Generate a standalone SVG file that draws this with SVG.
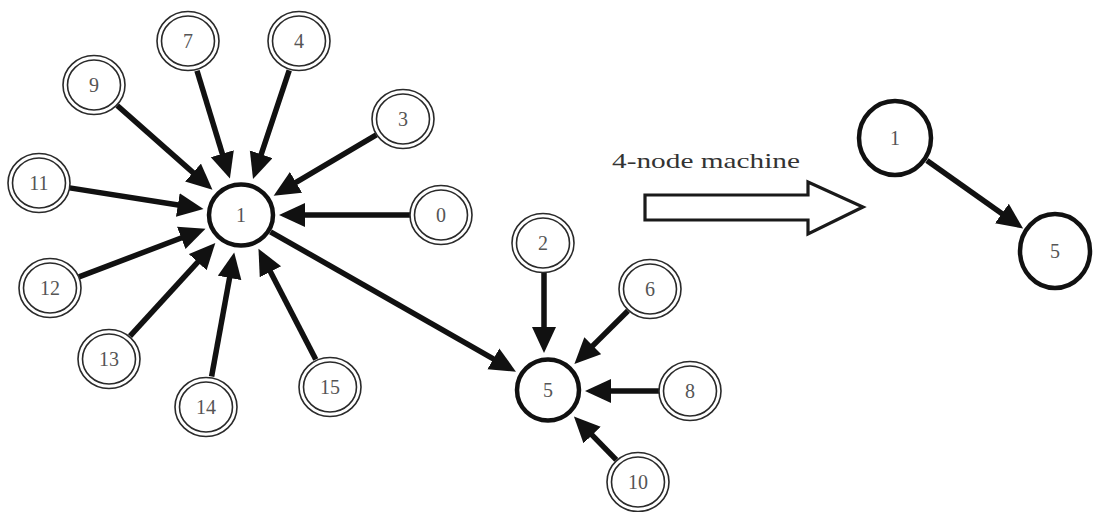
<svg xmlns="http://www.w3.org/2000/svg" width="1093" height="512" viewBox="0 0 1093 512">
<defs>
<style>
.bg{fill:#ffffff}
.dc{fill:#ffffff;stroke:#2a2a2a;stroke-width:1.6}
.dci{fill:none;stroke:#2a2a2a;stroke-width:1.6}
.bc{fill:#ffffff;stroke:#111111;stroke-width:4.5}
.lbl{font-family:"Liberation Serif","Times New Roman",serif;font-size:20px;fill:#555555;text-anchor:middle}
.edge{stroke:#111111;stroke-width:5.5;fill:none}
.cap{font-family:"Liberation Serif","Times New Roman",serif;font-size:22px;fill:#333333}
</style>
<marker id="ah" markerUnits="userSpaceOnUse" markerWidth="28" markerHeight="26" refX="2" refY="12" orient="auto">
<path d="M0,0 L26,12 L0,24 z" fill="#111111"/>
</marker>
</defs>
<rect class="bg" x="0" y="0" width="1093" height="512"/>

<g id="connectors">
<line class="edge" x1="197.0" y1="70.7" x2="222.9" y2="155.6" marker-end="url(#ah)"/>
<line class="edge" x1="289.2" y1="70.4" x2="260.6" y2="156.2" marker-end="url(#ah)"/>
<line class="edge" x1="117.2" y1="105.5" x2="194.5" y2="173.9" marker-end="url(#ah)"/>
<line class="edge" x1="376.3" y1="134.8" x2="294.3" y2="183.4" marker-end="url(#ah)"/>
<line class="edge" x1="69.6" y1="187.9" x2="179.8" y2="205.3" marker-end="url(#ah)"/>
<line class="edge" x1="410" y1="215" x2="303" y2="215" marker-end="url(#ah)"/>
<line class="edge" x1="79.0" y1="276.9" x2="183.1" y2="237.2" marker-end="url(#ah)"/>
<line class="edge" x1="130.0" y1="336.1" x2="199.1" y2="260.7" marker-end="url(#ah)"/>
<line class="edge" x1="211.6" y1="376.5" x2="229.9" y2="276.0" marker-end="url(#ah)"/>
<line class="edge" x1="315.8" y1="359.5" x2="269.5" y2="270.0" marker-end="url(#ah)"/>
<line class="edge" x1="270.5" y1="231.8" x2="495.1" y2="359.8" marker-end="url(#ah)"/>
<line class="edge" x1="544" y1="272" x2="544" y2="329" marker-end="url(#ah)"/>
<line class="edge" x1="628.0" y1="310.8" x2="591.4" y2="347.1" marker-end="url(#ah)"/>
<line class="edge" x1="659" y1="391" x2="609" y2="391" marker-end="url(#ah)"/>
<line class="edge" x1="616.3" y1="459.8" x2="590.7" y2="433.6" marker-end="url(#ah)"/>
<line class="edge" x1="926.9" y1="160.5" x2="1003.5" y2="214.7" marker-end="url(#ah)"/>
</g>

<g id="node-7"><ellipse class="dc" cx="188" cy="41" rx="31" ry="29.5"/><ellipse class="dci" cx="188" cy="41" rx="26.5" ry="25"/><text class="lbl" x="188" y="48">7</text></g>
<g id="node-4"><ellipse class="dc" cx="299" cy="41" rx="31" ry="29.5"/><ellipse class="dci" cx="299" cy="41" rx="26.5" ry="25"/><text class="lbl" x="299" y="48">4</text></g>
<g id="node-9"><ellipse class="dc" cx="94" cy="85" rx="31" ry="29.5"/><ellipse class="dci" cx="94" cy="85" rx="26.5" ry="25"/><text class="lbl" x="94" y="92">9</text></g>
<g id="node-3"><ellipse class="dc" cx="403" cy="119" rx="31" ry="29.5"/><ellipse class="dci" cx="403" cy="119" rx="26.5" ry="25"/><text class="lbl" x="403" y="126">3</text></g>
<g id="node-11"><ellipse class="dc" cx="39" cy="183" rx="31" ry="29.5"/><ellipse class="dci" cx="39" cy="183" rx="26.5" ry="25"/><text class="lbl" x="39" y="190">11</text></g>
<g id="node-0"><ellipse class="dc" cx="441" cy="215" rx="31" ry="29.5"/><ellipse class="dci" cx="441" cy="215" rx="26.5" ry="25"/><text class="lbl" x="441" y="222">0</text></g>
<g id="node-12"><ellipse class="dc" cx="50" cy="288" rx="31" ry="29.5"/><ellipse class="dci" cx="50" cy="288" rx="26.5" ry="25"/><text class="lbl" x="50" y="295">12</text></g>
<g id="node-13"><ellipse class="dc" cx="109" cy="359" rx="31" ry="29.5"/><ellipse class="dci" cx="109" cy="359" rx="26.5" ry="25"/><text class="lbl" x="109" y="366">13</text></g>
<g id="node-14"><ellipse class="dc" cx="206" cy="407" rx="31" ry="29.5"/><ellipse class="dci" cx="206" cy="407" rx="26.5" ry="25"/><text class="lbl" x="206" y="414">14</text></g>
<g id="node-15"><ellipse class="dc" cx="330" cy="387" rx="31" ry="29.5"/><ellipse class="dci" cx="330" cy="387" rx="26.5" ry="25"/><text class="lbl" x="330" y="394">15</text></g>
<g id="node-2"><ellipse class="dc" cx="543" cy="243" rx="31" ry="29.5"/><ellipse class="dci" cx="543" cy="243" rx="26.5" ry="25"/><text class="lbl" x="543" y="250">2</text></g>
<g id="node-6"><ellipse class="dc" cx="650" cy="289" rx="31" ry="29.5"/><ellipse class="dci" cx="650" cy="289" rx="26.5" ry="25"/><text class="lbl" x="650" y="296">6</text></g>
<g id="node-8"><ellipse class="dc" cx="690" cy="391" rx="31" ry="29.5"/><ellipse class="dci" cx="690" cy="391" rx="26.5" ry="25"/><text class="lbl" x="690" y="398">8</text></g>
<g id="node-10"><ellipse class="dc" cx="638" cy="482" rx="31" ry="29.5"/><ellipse class="dci" cx="638" cy="482" rx="26.5" ry="25"/><text class="lbl" x="638" y="489">10</text></g>

<g id="node-1"><ellipse class="bc" cx="241" cy="215" rx="32" ry="30.5"/><text class="lbl" x="241" y="222">1</text></g>
<g id="node-5"><ellipse class="bc" cx="548" cy="390" rx="31" ry="30.5"/><text class="lbl" x="548" y="397">5</text></g>

<g id="transform-arrow">
<polygon points="645,195 808,195 808,182 863,207 808,234 808,220 645,220" fill="#ffffff" stroke="#1a1a1a" stroke-width="3.2" stroke-linejoin="miter"/>
<text class="cap" x="612" y="168" textLength="188" lengthAdjust="spacingAndGlyphs">4-node machine</text>
</g>

<g id="node-r1"><ellipse class="bc" cx="895" cy="138" rx="36" ry="37" stroke-width="4"/><text class="lbl" x="895" y="145">1</text></g>
<g id="node-r5"><ellipse class="bc" cx="1055" cy="251" rx="35" ry="37" stroke-width="4"/><text class="lbl" x="1055" y="258">5</text></g>
</svg>
